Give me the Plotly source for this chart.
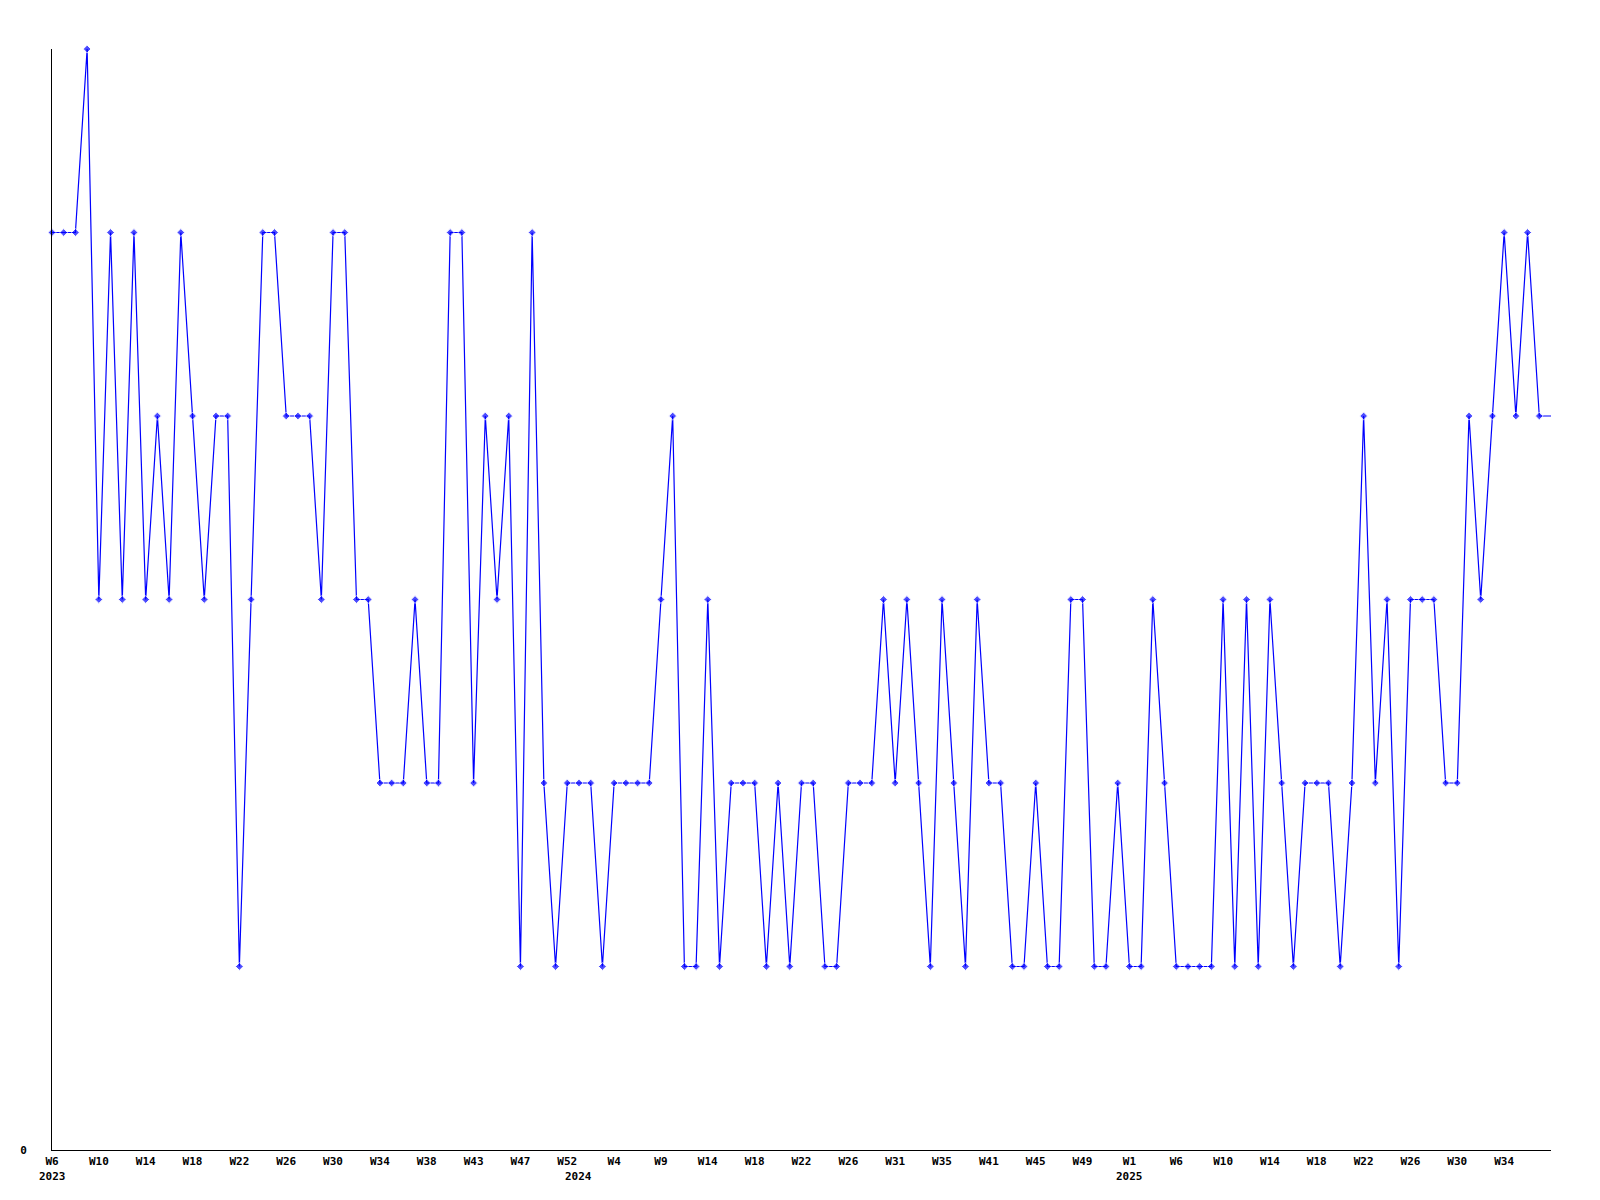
import plotly.graph_objects as go

# weekly values, 2023 W6 .. 2025 (last point = current week, no marker)
values = [5, 5, 5, 6, 3, 5, 3, 5, 3, 4, 3, 5, 4, 3, 4, 4, 1, 3, 5, 5,
          4, 4, 4, 3, 5, 5, 3, 3, 2, 2, 2, 3, 2, 2, 5, 5, 2, 4, 3, 4,
          1, 5, 2, 1, 2, 2, 2, 1, 2, 2, 2, 2, 3, 4, 1, 1, 3, 1, 2, 2,
          2, 1, 2, 1, 2, 2, 1, 1, 2, 2, 2, 3, 2, 3, 2, 1, 3, 2, 1, 3,
          2, 2, 1, 1, 2, 1, 1, 3, 3, 1, 1, 2, 1, 1, 3, 2, 1, 1, 1, 1,
          3, 1, 3, 1, 3, 2, 1, 2, 2, 2, 1, 2, 4, 2, 3, 1, 3, 3, 3, 2,
          2, 4, 3, 4, 5, 4, 5, 4, 4]

week_labels = ["W6", "W10", "W14", "W18", "W22", "W26", "W30", "W34", "W38",
               "W43", "W47", "W52", "W4", "W9", "W14", "W18", "W22", "W26",
               "W31", "W35", "W41", "W45", "W49", "W1", "W6", "W10", "W14",
               "W18", "W22", "W26", "W30", "W34"]
years = ["2023", "2024", "2025"]
year_pos = [0, 45, 92]

x = list(range(len(values)))
tick_pos = x[::4][:len(week_labels)]
sizes = [6] * (len(values) - 1) + [0]

fig = go.Figure()
fig.add_trace(go.Scatter(
    x=x, y=values, mode="lines+markers",
    line=dict(color="#0000ff", width=1.2),
    marker=dict(color="#0000ff", size=sizes, symbol="diamond"),
    cliponaxis=False, showlegend=False,
))

font = dict(family="DejaVu Sans Mono", size=11, color="black", weight="bold")

for pos, yr in zip(year_pos, years):
    fig.add_annotation(x=pos, y=-26.5 / 1101, xref="x", yref="paper",
                       text=yr, showarrow=False, font=font,
                       xanchor="center", yanchor="middle")

fig.update_xaxes(range=[0, len(values) - 1], tickvals=tick_pos, ticktext=week_labels,
                 showgrid=False, zeroline=False, showline=True, linecolor="black",
                 linewidth=1, ticks="", tickfont=font, ticklabelstandoff=1)
fig.update_yaxes(range=[0, 6], tickvals=[0], ticktext=["0"], showgrid=False,
                 zeroline=False, showline=True, linecolor="black", linewidth=1,
                 ticks="", tickfont=font, ticklabelstandoff=22)
fig.update_layout(width=1600, height=1200, plot_bgcolor="white", paper_bgcolor="white",
                  margin=dict(l=42, r=57, t=41, b=58))

fig.write_html("out.html")
